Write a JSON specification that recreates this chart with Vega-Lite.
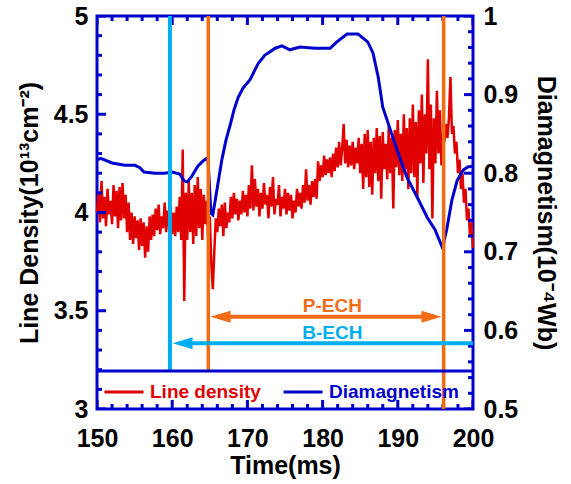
{
  "$schema": "https://vega.github.io/schema/vega-lite/v6.json",
  "width": 376,
  "height": 393,
  "autosize": {"type": "none"},
  "padding": {"left": 97, "top": 16, "right": 98, "bottom": 75},
  "background": "white",
  "config": {
    "view": {"stroke": "#0000cc", "strokeWidth": 3},
    "font": "Liberation Sans",
    "axis": {"domain": false, "grid": false, "ticks": false, "labelFlush": false, "labelOverlap": false,
      "labelFont": "Liberation Sans", "labelFontSize": 25, "labelFontWeight": "bold", "labelColor": "black",
      "titleFont": "Liberation Sans", "titleFontSize": 25, "titleFontWeight": "bold", "titleColor": "black"}
  },
  "datasets": {
    "density": [
      {"t":150.0,"v":4.00},{"t":150.2,"v":4.10},{"t":150.4,"v":3.95},{"t":150.6,"v":4.16},{"t":150.8,"v":3.97},
      {"t":151.0,"v":4.08},{"t":151.2,"v":3.93},{"t":151.4,"v":4.12},{"t":151.6,"v":3.99},{"t":151.8,"v":4.06},
      {"t":152.0,"v":3.94},{"t":152.2,"v":4.14},{"t":152.4,"v":3.98},{"t":152.6,"v":4.11},{"t":152.8,"v":3.92},
      {"t":153.0,"v":4.13},{"t":153.2,"v":3.96},{"t":153.4,"v":4.15},{"t":153.6,"v":3.97},{"t":153.8,"v":4.09},
      {"t":154.0,"v":3.90},{"t":154.2,"v":4.05},{"t":154.4,"v":3.86},{"t":154.6,"v":4.00},{"t":154.8,"v":3.84},
      {"t":155.0,"v":3.98},{"t":155.2,"v":3.87},{"t":155.4,"v":3.96},{"t":155.6,"v":3.81},{"t":155.8,"v":3.97},
      {"t":156.0,"v":3.83},{"t":156.2,"v":3.95},{"t":156.4,"v":3.77},{"t":156.6,"v":3.93},{"t":156.8,"v":3.80},
      {"t":157.0,"v":3.98},{"t":157.2,"v":3.86},{"t":157.4,"v":3.99},{"t":157.6,"v":3.88},{"t":157.8,"v":4.02},
      {"t":158.0,"v":3.91},{"t":158.2,"v":4.04},{"t":158.4,"v":3.89},{"t":158.6,"v":3.98},{"t":158.8,"v":3.92},
      {"t":159.0,"v":4.05},{"t":159.2,"v":3.90},{"t":159.4,"v":4.01},{"t":159.6,"v":3.93},{"t":159.8,"v":4.03},
      {"t":160.0,"v":3.89},{"t":160.2,"v":4.00},{"t":160.4,"v":3.88},{"t":160.6,"v":4.03},{"t":160.8,"v":3.90},
      {"t":161.0,"v":4.08},{"t":161.2,"v":3.86},{"t":161.4,"v":4.32},{"t":161.6,"v":3.55},{"t":161.8,"v":4.10},
      {"t":162.0,"v":3.86},{"t":162.2,"v":4.16},{"t":162.4,"v":3.90},{"t":162.6,"v":4.10},{"t":162.8,"v":3.84},
      {"t":163.0,"v":4.14},{"t":163.2,"v":3.88},{"t":163.4,"v":4.18},{"t":163.6,"v":3.92},{"t":163.8,"v":4.12},
      {"t":164.0,"v":3.86},{"t":164.2,"v":4.09},{"t":164.4,"v":3.94},{"t":164.6,"v":4.06},{"t":164.8,"v":3.85},
      {"t":165.0,"v":3.98},{"t":165.2,"v":3.74},{"t":165.4,"v":3.61},{"t":165.6,"v":3.80},{"t":165.8,"v":3.97},
      {"t":166.0,"v":3.90},{"t":166.2,"v":4.02},{"t":166.4,"v":3.93},{"t":166.6,"v":4.04},{"t":166.8,"v":3.88},
      {"t":167.0,"v":4.05},{"t":167.2,"v":3.92},{"t":167.4,"v":4.00},{"t":167.6,"v":3.95},{"t":167.8,"v":4.08},
      {"t":168.0,"v":3.97},{"t":168.2,"v":4.10},{"t":168.4,"v":3.99},{"t":168.6,"v":4.07},{"t":168.8,"v":3.96},
      {"t":169.0,"v":4.06},{"t":169.2,"v":3.99},{"t":169.4,"v":4.11},{"t":169.6,"v":4.00},{"t":169.8,"v":4.09},
      {"t":170.0,"v":3.98},{"t":170.2,"v":4.14},{"t":170.4,"v":4.02},{"t":170.6,"v":4.24},{"t":170.8,"v":4.01},
      {"t":171.0,"v":4.17},{"t":171.2,"v":4.03},{"t":171.4,"v":4.12},{"t":171.6,"v":3.98},{"t":171.8,"v":4.10},
      {"t":172.0,"v":4.02},{"t":172.2,"v":4.15},{"t":172.4,"v":4.04},{"t":172.6,"v":4.09},{"t":172.8,"v":3.97},
      {"t":173.0,"v":4.13},{"t":173.2,"v":4.03},{"t":173.4,"v":4.18},{"t":173.6,"v":3.99},{"t":173.8,"v":4.07},
      {"t":174.0,"v":4.04},{"t":174.2,"v":4.14},{"t":174.4,"v":3.98},{"t":174.6,"v":4.08},{"t":174.8,"v":4.02},
      {"t":175.0,"v":4.12},{"t":175.2,"v":3.99},{"t":175.4,"v":4.10},{"t":175.6,"v":4.01},{"t":175.8,"v":4.09},
      {"t":176.0,"v":3.97},{"t":176.2,"v":4.06},{"t":176.4,"v":4.00},{"t":176.6,"v":4.12},{"t":176.8,"v":4.03},
      {"t":177.0,"v":4.10},{"t":177.2,"v":4.02},{"t":177.4,"v":4.14},{"t":177.6,"v":4.05},{"t":177.8,"v":4.22},
      {"t":178.0,"v":4.06},{"t":178.2,"v":4.14},{"t":178.4,"v":4.04},{"t":178.6,"v":4.16},{"t":178.8,"v":4.08},
      {"t":179.0,"v":4.17},{"t":179.2,"v":4.07},{"t":179.4,"v":4.26},{"t":179.6,"v":4.16},{"t":179.8,"v":4.24},
      {"t":180.0,"v":4.18},{"t":180.2,"v":4.29},{"t":180.4,"v":4.19},{"t":180.6,"v":4.27},{"t":180.8,"v":4.20},
      {"t":181.0,"v":4.28},{"t":181.2,"v":4.18},{"t":181.4,"v":4.30},{"t":181.6,"v":4.21},{"t":181.8,"v":4.33},
      {"t":182.0,"v":4.23},{"t":182.2,"v":4.36},{"t":182.4,"v":4.24},{"t":182.6,"v":4.32},{"t":182.8,"v":4.45},
      {"t":183.0,"v":4.25},{"t":183.2,"v":4.37},{"t":183.4,"v":4.23},{"t":183.6,"v":4.34},{"t":183.8,"v":4.24},
      {"t":184.0,"v":4.36},{"t":184.2,"v":4.22},{"t":184.4,"v":4.33},{"t":184.6,"v":4.25},{"t":184.8,"v":4.38},
      {"t":185.0,"v":4.20},{"t":185.2,"v":4.35},{"t":185.4,"v":4.12},{"t":185.6,"v":4.40},{"t":185.8,"v":4.18},
      {"t":186.0,"v":4.42},{"t":186.2,"v":4.13},{"t":186.4,"v":4.36},{"t":186.6,"v":4.09},{"t":186.8,"v":4.38},
      {"t":187.0,"v":4.20},{"t":187.2,"v":4.43},{"t":187.4,"v":4.16},{"t":187.6,"v":4.39},{"t":187.8,"v":4.07},
      {"t":188.0,"v":4.41},{"t":188.2,"v":4.22},{"t":188.4,"v":4.35},{"t":188.6,"v":4.17},{"t":188.8,"v":4.44},
      {"t":189.0,"v":4.20},{"t":189.2,"v":4.38},{"t":189.4,"v":4.02},{"t":189.6,"v":4.42},{"t":189.8,"v":4.23},
      {"t":190.0,"v":4.47},{"t":190.2,"v":4.19},{"t":190.4,"v":4.40},{"t":190.6,"v":4.16},{"t":190.8,"v":4.50},
      {"t":191.0,"v":4.22},{"t":191.2,"v":4.43},{"t":191.4,"v":4.12},{"t":191.6,"v":4.48},{"t":191.8,"v":4.20},
      {"t":192.0,"v":4.55},{"t":192.2,"v":4.18},{"t":192.4,"v":4.46},{"t":192.6,"v":4.08},{"t":192.8,"v":4.52},
      {"t":193.0,"v":4.25},{"t":193.2,"v":4.60},{"t":193.4,"v":4.15},{"t":193.6,"v":4.50},{"t":193.8,"v":4.30},
      {"t":194.0,"v":4.78},{"t":194.2,"v":4.22},{"t":194.4,"v":4.55},{"t":194.6,"v":3.97},{"t":194.8,"v":4.48},
      {"t":195.0,"v":4.25},{"t":195.2,"v":4.62},{"t":195.4,"v":4.30},{"t":195.6,"v":4.52},{"t":195.8,"v":4.24},
      {"t":196.0,"v":4.40},{"t":196.2,"v":4.36},{"t":196.4,"v":4.45},{"t":196.6,"v":4.38},{"t":196.8,"v":4.48},
      {"t":197.0,"v":4.69},{"t":197.2,"v":4.40},{"t":197.4,"v":4.44},{"t":197.6,"v":4.30},{"t":197.8,"v":4.36},
      {"t":198.0,"v":4.20},{"t":198.2,"v":4.27},{"t":198.4,"v":4.12},{"t":198.6,"v":4.20},{"t":198.8,"v":4.05},
      {"t":199.0,"v":4.12},{"t":199.2,"v":3.96},{"t":199.4,"v":4.02},{"t":199.6,"v":3.88},{"t":199.8,"v":3.95},
      {"t":200.0,"v":3.82}
    ],
    "diamag": [
      {"t":150.0,"v":0.817},{"t":150.5,"v":0.819},{"t":152.0,"v":0.813},{"t":153.7,"v":0.810},{"t":155.05,"v":0.810},
      {"t":155.7,"v":0.807},{"t":156.25,"v":0.8015},{"t":157.7,"v":0.800},{"t":159.0,"v":0.800},{"t":160.0,"v":0.8015},
      {"t":161.0,"v":0.799},{"t":161.6,"v":0.790},{"t":162.0,"v":0.789},{"t":162.6,"v":0.796},{"t":163.4,"v":0.809},
      {"t":164.1,"v":0.8155},{"t":164.6,"v":0.819},{"t":164.75,"v":0.819},{"t":165.15,"v":0.749},{"t":165.4,"v":0.747},
      {"t":165.95,"v":0.779},{"t":166.6,"v":0.817},{"t":167.15,"v":0.842},{"t":167.7,"v":0.861},{"t":168.2,"v":0.880},
      {"t":168.75,"v":0.896},{"t":169.4,"v":0.908},{"t":170.35,"v":0.919},{"t":171.4,"v":0.939},{"t":172.3,"v":0.950},
      {"t":173.7,"v":0.959},{"t":174.6,"v":0.962},{"t":175.65,"v":0.957},{"t":177.0,"v":0.9606},{"t":179.0,"v":0.959},
      {"t":181.0,"v":0.959},{"t":181.9,"v":0.967},{"t":183.25,"v":0.977},{"t":184.7,"v":0.977},{"t":186.0,"v":0.967},
      {"t":186.7,"v":0.953},{"t":187.4,"v":0.922},{"t":188.0,"v":0.884},{"t":188.7,"v":0.864},{"t":189.9,"v":0.8295},
      {"t":191.2,"v":0.795},{"t":192.55,"v":0.770},{"t":193.9,"v":0.744},{"t":194.95,"v":0.728},{"t":195.9,"v":0.706},
      {"t":196.0,"v":0.707},{"t":196.5,"v":0.728},{"t":197.2,"v":0.766},{"t":197.9,"v":0.791},{"t":198.7,"v":0.804},
      {"t":199.3,"v":0.808},{"t":200.0,"v":0.809}
    ],
    "xMajorTicks": [
      {"t":150,"e":3},{"t":160,"e":3},{"t":170,"e":3},{"t":180,"e":3},{"t":190,"e":3},{"t":200,"e":3},
      {"t":150,"e":5},{"t":160,"e":5},{"t":170,"e":5},{"t":180,"e":5},{"t":190,"e":5},{"t":200,"e":5}
    ],
    "xMinorTicks": [
      {"t":152,"e":3},{"t":154,"e":3},{"t":156,"e":3},{"t":158,"e":3},{"t":162,"e":3},{"t":164,"e":3},{"t":166,"e":3},{"t":168,"e":3},
      {"t":172,"e":3},{"t":174,"e":3},{"t":176,"e":3},{"t":178,"e":3},{"t":182,"e":3},{"t":184,"e":3},{"t":186,"e":3},{"t":188,"e":3},
      {"t":192,"e":3},{"t":194,"e":3},{"t":196,"e":3},{"t":198,"e":3},
      {"t":152,"e":5},{"t":154,"e":5},{"t":156,"e":5},{"t":158,"e":5},{"t":162,"e":5},{"t":164,"e":5},{"t":166,"e":5},{"t":168,"e":5},
      {"t":172,"e":5},{"t":174,"e":5},{"t":176,"e":5},{"t":178,"e":5},{"t":182,"e":5},{"t":184,"e":5},{"t":186,"e":5},{"t":188,"e":5},
      {"t":192,"e":5},{"t":194,"e":5},{"t":196,"e":5},{"t":198,"e":5}
    ],
    "leftMajorTicks": [{"t":150,"v":3},{"t":150,"v":3.5},{"t":150,"v":4},{"t":150,"v":4.5},{"t":150,"v":5}],
    "leftMinorTicks": [
      {"t":150,"v":3.1},{"t":150,"v":3.2},{"t":150,"v":3.3},{"t":150,"v":3.4},{"t":150,"v":3.6},{"t":150,"v":3.7},{"t":150,"v":3.8},{"t":150,"v":3.9},
      {"t":150,"v":4.1},{"t":150,"v":4.2},{"t":150,"v":4.3},{"t":150,"v":4.4},{"t":150,"v":4.6},{"t":150,"v":4.7},{"t":150,"v":4.8},{"t":150,"v":4.9}
    ],
    "rightMajorTicks": [{"t":200,"v":0.5},{"t":200,"v":0.6},{"t":200,"v":0.7},{"t":200,"v":0.8},{"t":200,"v":0.9},{"t":200,"v":1}],
    "rightMinorTicks": [
      {"t":200,"v":0.52},{"t":200,"v":0.54},{"t":200,"v":0.56},{"t":200,"v":0.58},{"t":200,"v":0.62},{"t":200,"v":0.64},{"t":200,"v":0.66},{"t":200,"v":0.68},
      {"t":200,"v":0.72},{"t":200,"v":0.74},{"t":200,"v":0.76},{"t":200,"v":0.78},{"t":200,"v":0.82},{"t":200,"v":0.84},{"t":200,"v":0.86},{"t":200,"v":0.88},
      {"t":200,"v":0.92},{"t":200,"v":0.94},{"t":200,"v":0.96},{"t":200,"v":0.98}
    ]
  },
  "layer": [
    {
      "data": {"name": "density"},
      "mark": {"type": "line", "strokeWidth": 2.5, "strokeJoin": "miter"},
      "encoding": {
        "x": {"field": "t", "type": "quantitative",
          "scale": {"domain": [150, 200], "nice": false, "zero": false},
          "axis": {"orient": "bottom", "values": [150,160,170,180,190,200], "labelPadding": 17,
            "title": "Time(ms)", "titlePadding": 2}},
        "y": {"field": "v", "type": "quantitative",
          "scale": {"domain": [3, 5], "nice": false, "zero": false},
          "axis": {"orient": "left", "values": [3,3.5,4,4.5,5], "format": "~g", "labelPadding": 9,
            "title": "Line Density(10¹³cm⁻²)", "titlePadding": 11}},
        "color": {"datum": "Line density",
          "scale": {"domain": ["Line density", "Diamagnetism"], "range": ["#e00000", "#0000cc"]},
          "legend": {"orient": "none", "legendX": 6, "legendY": 355, "direction": "horizontal", "title": null,
            "symbolType": "stroke", "symbolSize": 1521, "symbolStrokeWidth": 3, "padding": 0,
            "labelFont": "Liberation Sans", "labelFontSize": 19, "labelFontWeight": "bold", "labelOffset": 5, "columnPadding": 16,
            "encode": {"labels": {"update": {"fill": {"signal": "datum.label === 'Line density' ? '#e00000' : '#0000cc'"}}}}}}
      }
    },
    {
      "data": {"name": "diamag"},
      "mark": {"type": "line", "strokeWidth": 3},
      "encoding": {
        "x": {"field": "t", "type": "quantitative",
          "scale": {"domain": [150, 200], "nice": false, "zero": false}, "axis": null},
        "y": {"field": "v", "type": "quantitative",
          "scale": {"domain": [0.5, 1], "nice": false, "zero": false},
          "axis": {"orient": "right", "values": [0.5,0.6,0.7,0.8,0.9,1], "format": "~g", "labelPadding": 10,
            "title": "Diamagnetism(10⁻⁴Wb)", "titlePadding": 15}},
        "color": {"datum": "Diamagnetism"}
      }
    },
    {
      "data": {"name": "xMajorTicks"},
      "mark": {"type": "tick", "orient": "vertical", "size": 18, "thickness": 3, "color": "#0000cc", "opacity": 1, "clip": true},
      "encoding": {
        "x": {"field": "t", "type": "quantitative", "scale": {"domain": [150, 200], "nice": false, "zero": false}, "axis": null},
        "y": {"field": "e", "type": "quantitative", "scale": {"domain": [3, 5], "nice": false, "zero": false}, "axis": null}
      }
    },
    {
      "data": {"name": "xMinorTicks"},
      "mark": {"type": "tick", "orient": "vertical", "size": 10, "thickness": 3, "color": "#0000cc", "opacity": 1, "clip": true},
      "encoding": {
        "x": {"field": "t", "type": "quantitative", "scale": {"domain": [150, 200], "nice": false, "zero": false}, "axis": null},
        "y": {"field": "e", "type": "quantitative", "scale": {"domain": [3, 5], "nice": false, "zero": false}, "axis": null}
      }
    },
    {
      "data": {"name": "leftMajorTicks"},
      "mark": {"type": "tick", "orient": "horizontal", "size": 18, "thickness": 3, "color": "#0000cc", "opacity": 1, "clip": true},
      "encoding": {
        "x": {"field": "t", "type": "quantitative", "scale": {"domain": [150, 200], "nice": false, "zero": false}, "axis": null},
        "y": {"field": "v", "type": "quantitative", "scale": {"domain": [3, 5], "nice": false, "zero": false}, "axis": null}
      }
    },
    {
      "data": {"name": "leftMinorTicks"},
      "mark": {"type": "tick", "orient": "horizontal", "size": 10, "thickness": 3, "color": "#0000cc", "opacity": 1, "clip": true},
      "encoding": {
        "x": {"field": "t", "type": "quantitative", "scale": {"domain": [150, 200], "nice": false, "zero": false}, "axis": null},
        "y": {"field": "v", "type": "quantitative", "scale": {"domain": [3, 5], "nice": false, "zero": false}, "axis": null}
      }
    },
    {
      "data": {"name": "rightMajorTicks"},
      "mark": {"type": "tick", "orient": "horizontal", "size": 18, "thickness": 3, "color": "#0000cc", "opacity": 1, "clip": true},
      "encoding": {
        "x": {"field": "t", "type": "quantitative", "scale": {"domain": [150, 200], "nice": false, "zero": false}, "axis": null},
        "y": {"field": "v", "type": "quantitative", "scale": {"domain": [0.5, 1], "nice": false, "zero": false}, "axis": null}
      }
    },
    {
      "data": {"name": "rightMinorTicks"},
      "mark": {"type": "tick", "orient": "horizontal", "size": 10, "thickness": 3, "color": "#0000cc", "opacity": 1, "clip": true},
      "encoding": {
        "x": {"field": "t", "type": "quantitative", "scale": {"domain": [150, 200], "nice": false, "zero": false}, "axis": null},
        "y": {"field": "v", "type": "quantitative", "scale": {"domain": [0.5, 1], "nice": false, "zero": false}, "axis": null}
      }
    },
    {
      "data": {"values": [{"t": 159.7, "top": 5, "bottom": 3.193}]},
      "mark": {"type": "rule", "color": "#00aeef", "strokeWidth": 4},
      "encoding": {
        "x": {"field": "t", "type": "quantitative", "scale": {"domain": [150, 200], "nice": false, "zero": false}, "axis": null},
        "y": {"field": "top", "type": "quantitative", "scale": {"domain": [3, 5], "nice": false, "zero": false}, "axis": null},
        "y2": {"field": "bottom"}
      }
    },
    {
      "data": {"values": [{"t": 164.8, "top": 5, "bottom": 3.193}, {"t": 196.1, "top": 5, "bottom": 3}]},
      "mark": {"type": "rule", "color": "#f26b15", "strokeWidth": 3.5},
      "encoding": {
        "x": {"field": "t", "type": "quantitative", "scale": {"domain": [150, 200], "nice": false, "zero": false}, "axis": null},
        "y": {"field": "top", "type": "quantitative", "scale": {"domain": [3, 5], "nice": false, "zero": false}, "axis": null},
        "y2": {"field": "bottom"}
      }
    },
    {
      "data": {"values": [{"t1": 150, "t2": 200, "v": 3.193}]},
      "mark": {"type": "rule", "color": "#0000cc", "strokeWidth": 3},
      "encoding": {
        "x": {"field": "t1", "type": "quantitative", "scale": {"domain": [150, 200], "nice": false, "zero": false}, "axis": null},
        "x2": {"field": "t2"},
        "y": {"field": "v", "type": "quantitative", "scale": {"domain": [3, 5], "nice": false, "zero": false}, "axis": null}
      }
    },
    {
      "data": {"values": [{"t1": 166.0, "t2": 195.0, "v": 3.47}]},
      "mark": {"type": "rule", "color": "#f26b15", "strokeWidth": 4},
      "encoding": {
        "x": {"field": "t1", "type": "quantitative", "scale": {"domain": [150, 200], "nice": false, "zero": false}, "axis": null},
        "x2": {"field": "t2"},
        "y": {"field": "v", "type": "quantitative", "scale": {"domain": [3, 5], "nice": false, "zero": false}, "axis": null}
      }
    },
    {
      "data": {"values": [{"t1": 161.0, "t2": 200, "v": 3.334}]},
      "mark": {"type": "rule", "color": "#00aeef", "strokeWidth": 4},
      "encoding": {
        "x": {"field": "t1", "type": "quantitative", "scale": {"domain": [150, 200], "nice": false, "zero": false}, "axis": null},
        "x2": {"field": "t2"},
        "y": {"field": "v", "type": "quantitative", "scale": {"domain": [3, 5], "nice": false, "zero": false}, "axis": null}
      }
    },
    {
      "data": {"values": [{"t": 165.1, "v": 3.47}]},
      "mark": {"type": "point", "shape": "M0,0L2,-0.6L2,0.6Z", "size": 400, "filled": true, "color": "#f26b15", "opacity": 1, "strokeWidth": 0},
      "encoding": {
        "x": {"field": "t", "type": "quantitative", "scale": {"domain": [150, 200], "nice": false, "zero": false}, "axis": null},
        "y": {"field": "v", "type": "quantitative", "scale": {"domain": [3, 5], "nice": false, "zero": false}, "axis": null}
      }
    },
    {
      "data": {"values": [{"t": 195.8, "v": 3.47}]},
      "mark": {"type": "point", "shape": "M0,0L-2,-0.6L-2,0.6Z", "size": 400, "filled": true, "color": "#f26b15", "opacity": 1, "strokeWidth": 0},
      "encoding": {
        "x": {"field": "t", "type": "quantitative", "scale": {"domain": [150, 200], "nice": false, "zero": false}, "axis": null},
        "y": {"field": "v", "type": "quantitative", "scale": {"domain": [3, 5], "nice": false, "zero": false}, "axis": null}
      }
    },
    {
      "data": {"values": [{"t": 160.05, "v": 3.334}]},
      "mark": {"type": "point", "shape": "M0,0L2,-0.6L2,0.6Z", "size": 400, "filled": true, "color": "#00aeef", "opacity": 1, "strokeWidth": 0},
      "encoding": {
        "x": {"field": "t", "type": "quantitative", "scale": {"domain": [150, 200], "nice": false, "zero": false}, "axis": null},
        "y": {"field": "v", "type": "quantitative", "scale": {"domain": [3, 5], "nice": false, "zero": false}, "axis": null}
      }
    },
    {
      "data": {"values": [{"t": 181.3, "v": 3.524, "label": "P-ECH"}]},
      "mark": {"type": "text", "font": "Liberation Sans", "fontSize": 19, "fontWeight": "bold", "color": "#f26b15", "align": "center", "baseline": "middle"},
      "encoding": {
        "x": {"field": "t", "type": "quantitative", "scale": {"domain": [150, 200], "nice": false, "zero": false}, "axis": null},
        "y": {"field": "v", "type": "quantitative", "scale": {"domain": [3, 5], "nice": false, "zero": false}, "axis": null},
        "text": {"field": "label"}
      }
    },
    {
      "data": {"values": [{"t": 181.3, "v": 3.387, "label": "B-ECH"}]},
      "mark": {"type": "text", "font": "Liberation Sans", "fontSize": 19, "fontWeight": "bold", "color": "#00aeef", "align": "center", "baseline": "middle"},
      "encoding": {
        "x": {"field": "t", "type": "quantitative", "scale": {"domain": [150, 200], "nice": false, "zero": false}, "axis": null},
        "y": {"field": "v", "type": "quantitative", "scale": {"domain": [3, 5], "nice": false, "zero": false}, "axis": null},
        "text": {"field": "label"}
      }
    }
  ],
  "resolve": {"scale": {"y": "independent"}, "axis": {"x": "independent", "y": "independent"}}
}
